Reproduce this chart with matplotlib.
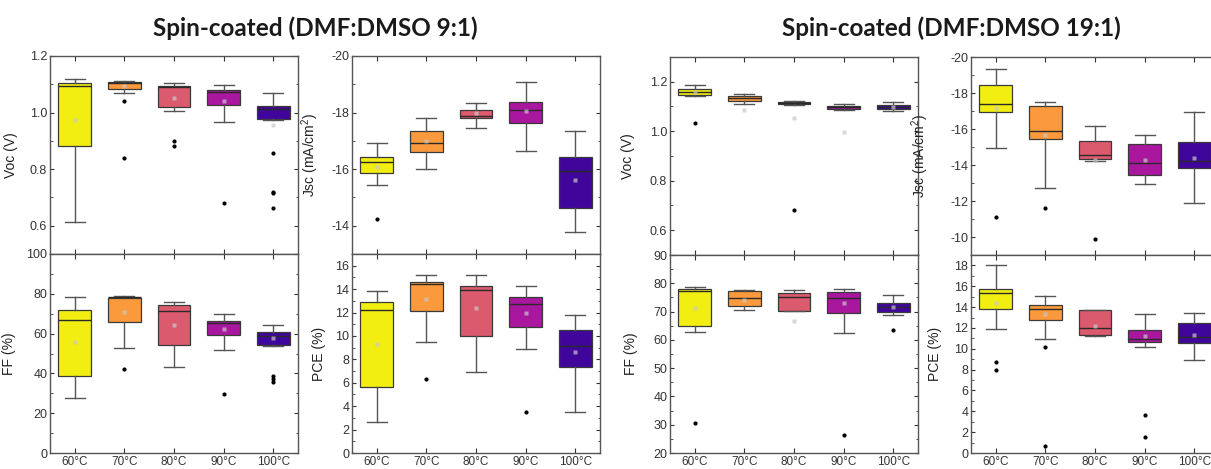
import matplotlib
matplotlib.use("Agg")
import matplotlib.pyplot as plt
from matplotlib.ticker import MultipleLocator

plt.rcParams['font.family'] = ['Liberation Sans', 'DejaVu Sans']
plt.rcParams['mathtext.default'] = 'regular'
plt.rcParams['axes.unicode_minus'] = False

temps = ["60°C", "70°C", "80°C", "90°C", "100°C"]
colors = ["#f2ee12", "#fa9a3c", "#dc5a6e", "#a8179e", "#40069c"]

# DMF:DMSO 9:1
voc_91 = dict(lo=[0.614, 1.068, 1.006, 0.967, 0.975], q1=[0.881, 1.084, 1.021, 1.026, 0.977],
              med=[1.095, 1.103, 1.090, 1.072, 1.012], q3=[1.105, 1.108, 1.093, 1.079, 1.023],
              hi=[1.117, 1.110, 1.103, 1.096, 1.070], mean=[0.974, 1.095, 1.051, 1.041, 0.955],
              out=[[], [1.042, 0.839], [0.898, 0.883], [0.682], [0.857, 0.720, 0.717, 0.663]])
jsc_91 = dict(lo=[-15.45, -16.00, -17.45, -16.65, -13.79], q1=[-15.86, -16.62, -17.82, -17.62, -14.61],
              med=[-16.27, -16.94, -17.88, -18.08, -15.95], q3=[-16.42, -17.36, -18.10, -18.39, -16.42],
              hi=[-16.94, -17.82, -18.35, -19.08, -17.36], mean=[-16.09, -17.00, -17.98, -18.05, -15.62],
              out=[[-14.25], [], [], [], []])
ff_91 = dict(lo=[27.5, 53.0, 43.0, 52.0, 54.0], q1=[38.7, 65.8, 54.5, 59.5, 54.2],
             med=[66.7, 78.5, 71.3, 65.3, 58.8], q3=[72.0, 78.0, 74.2, 66.5, 60.7],
             hi=[78.3, 78.8, 75.8, 69.7, 64.2], mean=[55.8, 70.8, 64.2, 62.5, 58.0],
             out=[[], [42.0], [], [29.5], [38.8, 37.2, 35.5]])
pce_91 = dict(lo=[2.64, 9.51, 6.90, 8.89, 3.52], q1=[5.68, 12.16, 10.00, 10.77, 7.36],
              med=[12.24, 14.43, 13.95, 12.73, 9.17], q3=[12.87, 14.63, 14.29, 13.33, 10.49],
              hi=[13.80, 15.23, 15.20, 14.29, 11.79], mean=[9.29, 13.13, 12.36, 11.96, 8.60],
              out=[[], [6.31], [], [3.52], []])

# DMF:DMSO 19:1
voc_191 = dict(lo=[1.142, 1.112, 1.108, 1.086, 1.082], q1=[1.147, 1.124, 1.110, 1.091, 1.091],
               med=[1.160, 1.134, 1.116, 1.099, 1.099], q3=[1.171, 1.144, 1.120, 1.104, 1.106],
               hi=[1.187, 1.151, 1.123, 1.110, 1.119], mean=[1.158, 1.087, 1.054, 0.996, 1.098],
               out=[[1.034], [], [0.681], [], []])
jsc_191 = dict(lo=[-14.94, -12.70, -14.22, -12.94, -11.88], q1=[-16.94, -15.42, -14.31, -13.45, -13.82],
               med=[-17.38, -15.91, -14.57, -14.11, -14.20], q3=[-18.43, -17.29, -15.31, -15.18, -15.29],
               hi=[-19.36, -17.49, -16.19, -15.69, -16.92], mean=[-17.16, -15.64, -14.28, -14.28, -14.40],
               out=[[-11.10], [-11.62], [-9.87], [], []])
ff_191 = dict(lo=[62.7, 70.6, 70.3, 62.6, 68.8], q1=[64.9, 71.8, 70.3, 69.4, 69.8],
              med=[77.1, 74.7, 75.3, 74.7, 71.5], q3=[78.0, 77.3, 76.4, 76.8, 73.0],
              hi=[78.8, 77.6, 77.6, 78.0, 75.9], mean=[71.1, 74.0, 66.6, 73.0, 71.5],
              out=[[30.5], [], [], [26.4], [63.6]])
pce_191 = dict(lo=[11.90, 10.95, 11.24, 10.19, 8.90], q1=[13.78, 12.76, 11.33, 10.67, 10.60],
               med=[15.37, 13.81, 12.04, 10.95, 11.11], q3=[15.78, 14.19, 13.69, 11.85, 12.45],
               hi=[18.07, 15.02, 13.70, 13.37, 13.40], mean=[14.42, 13.30, 12.23, 11.20, 11.30],
               out=[[8.70, 7.94], [10.16, 0.67], [], [3.69, 1.50], []])


def box_stats(d):
    stats = []
    for i in range(len(temps)):
        stats.append(dict(label=temps[i], whislo=d['lo'][i], q1=d['q1'][i], med=d['med'][i],
                          q3=d['q3'][i], whishi=d['hi'][i], mean=d['mean'][i], fliers=d['out'][i]))
    return stats


def draw_panel(ax, d, ylim, major, minor, ylabel, label_px, bottom):
    res = ax.bxp(box_stats(d), positions=range(1, 6), widths=0.66, capwidths=0.4,
                 patch_artist=True, showmeans=True,
                 boxprops=dict(edgecolor='#3a3a3a', linewidth=0.9),
                 medianprops=dict(color='#2a2a2a', linewidth=1.0),
                 whiskerprops=dict(color='#555555', linewidth=1.0),
                 capprops=dict(color='#555555', linewidth=1.0),
                 meanprops=dict(marker='s', markersize=2.5, markerfacecolor='#c8c8c8',
                                markeredgecolor='none', alpha=0.7),
                 flierprops=dict(marker='o', markersize=2.0, markerfacecolor='black',
                                 markeredgecolor='black'))
    for patch, c in zip(res['boxes'], colors):
        patch.set_facecolor(c)
    ax.set_xlim(0.5, 5.5)
    ax.set_ylim(*ylim)
    ax.yaxis.set_major_locator(MultipleLocator(major))
    ax.yaxis.set_minor_locator(MultipleLocator(minor))
    ax.tick_params(axis='y', which='both', direction='in', left=True, right=True,
                   labelsize=9, colors='#333333', length=3, pad=2)
    ax.tick_params(axis='y', which='minor', length=1.8)
    ax.tick_params(axis='x', which='both', direction='in', top=True, bottom=True,
                   labelsize=8.5, colors='#333333', length=3.5, pad=2, labelbottom=bottom)
    for s in ax.spines.values():
        s.set_color('#555555')
        s.set_linewidth(1.0)
    ax.set_ylabel(ylabel, fontsize=10, color='#222222')
    w = ax.get_position().width * 1211
    ax.yaxis.set_label_coords(-label_px / w, 0.5)


fig = plt.figure(figsize=(12.11, 4.69), dpi=100)

W, H = 1211.0, 469.0
top, mid, bot = 56, 254, 453
cols = [50, 352, 670, 971]
pw = 248


def make_ax(x, y0, y1):
    return fig.add_axes([x / W, (H - y1) / H, pw / W, (y1 - y0) / H])


ax = make_ax(cols[0], top, mid)
draw_panel(ax, voc_91, (0.5, 1.2), 0.2, 0.1, 'Voc (V)', 32, False)
ax = make_ax(cols[0], mid, bot)
draw_panel(ax, ff_91, (0, 100), 20, 10, 'FF (%)', 34, True)
ax = make_ax(cols[1], top, mid)
draw_panel(ax, jsc_91, (-13, -20), 2, 1, 'Jsc (mA/cm$^{2}$)', 31, False)
ax = make_ax(cols[1], mid, bot)
draw_panel(ax, pce_91, (0, 17), 2, 1, 'PCE (%)', 26, True)

ax = make_ax(cols[2], top + 1, mid + 1)
draw_panel(ax, voc_191, (0.5, 1.3), 0.2, 0.1, 'Voc (V)', 35, False)
ax = make_ax(cols[2], mid + 1, bot)
draw_panel(ax, ff_191, (20, 90), 10, 5, 'FF (%)', 32, True)
ax = make_ax(cols[3], top + 1, mid + 1)
draw_panel(ax, jsc_191, (-9, -20), 2, 1, 'Jsc (mA/cm$^{2}$)', 40, False)
ax = make_ax(cols[3], mid + 1, bot)
draw_panel(ax, pce_191, (0, 19), 2, 1, 'PCE (%)', 29, True)

fig.text(315 / W, 1 - 28 / H, 'Spin-coated (DMF:DMSO 9:1)', ha='center', va='center',
         fontsize=17.5, fontweight='bold', family=['Lato', 'DejaVu Sans'], color='#1a1a1a')
fig.text(951 / W, 1 - 28 / H, 'Spin-coated (DMF:DMSO 19:1)', ha='center', va='center',
         fontsize=17.5, fontweight='bold', family=['Lato', 'DejaVu Sans'], color='#1a1a1a')

fig.savefig('out.png', dpi=100)
